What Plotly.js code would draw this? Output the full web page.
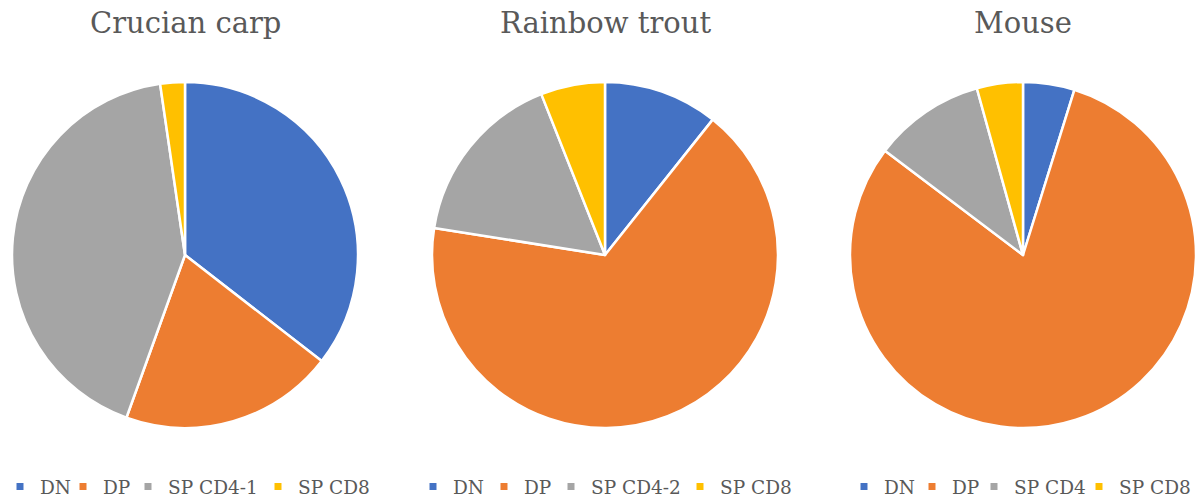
<!DOCTYPE html>
<html>
<head>
<meta charset="utf-8">
<script src="https://cdn.plot.ly/plotly-3.0.1.min.js"></script>
<style>html,body{margin:0;padding:0;background:#fff;overflow:hidden}#wrap{width:1196px;height:499px;overflow:hidden}</style>
</head>
<body>
<div id="wrap"><div id="chart"></div></div>
<script>
const titles = ["Crucian carp", "Rainbow trout", "Mouse"];
const labelsCarp = ["DN", "DP", "SP CD4-1", "SP CD8"];
const labelsTrout = ["DN", "DP", "SP CD4-2", "SP CD8"];
const labelsMouse = ["DN", "DP", "SP CD4", "SP CD8"];
const valuesCarp = [35.5, 20.0, 42.2, 2.3];
const valuesTrout = [10.7, 66.8, 16.5, 6.0];
const valuesMouse = [4.8, 80.5, 10.4, 4.3];
const colors = ["#4472C4", "#ED7D31", "#A5A5A5", "#FFC000"];

const FONT = "DejaVu Serif";
const W = 1196, H = 506;
const R = 173;
const centers = [[185, 255], [605, 255], [1023, 255]];
const allLabels = [labelsCarp, labelsTrout, labelsMouse];
const allValues = [valuesCarp, valuesTrout, valuesMouse];
// legend symbol centres (px) for each pie's legend entries
const symbolPos = [[16, 85, 150, 280], [435, 506, 573, 702], [866, 934, 996, 1100]];

const traces = [];
const pieIdx = [];
const annotations = [];
const layout = {
  width: W, height: H,
  margin: {l: 0, r: 0, t: 0, b: 0, pad: 0},
  paper_bgcolor: "#ffffff",
  plot_bgcolor: "#ffffff",
  xaxis: {visible: false, range: [0, 1]},
  yaxis: {visible: false, range: [0, 1]},
  showlegend: true,
  font: {family: FONT, color: "#595959"}
};

function pieDomain(cx, cy, s) {
  return {
    x: [(cx - R - s.l) / s.w, (cx + R - s.l) / s.w],
    y: [(s.t + s.h - (cy + R)) / s.h, (s.t + s.h - (cy - R)) / s.h]
  };
}

let legendCount = 0;
for (let i = 0; i < 3; i++) {
  const [cx, cy] = centers[i];
  pieIdx.push(traces.length);
  traces.push({
    type: "pie",
    labels: allLabels[i],
    values: allValues[i],
    sort: false,
    direction: "clockwise",
    rotation: 0,
    textinfo: "none",
    hoverinfo: "label+percent",
    showlegend: false,
    automargin: false,
    marker: {colors: colors, line: {color: "#ffffff", width: 2.5}},
    domain: pieDomain(cx, cy, {l: 0, t: 0, w: W, h: H})
  });
  allLabels[i].forEach((lab, j) => {
    legendCount++;
    const lname = legendCount === 1 ? "legend" : "legend" + legendCount;
    traces.push({
      type: "scatter",
      mode: "markers",
      x: [null], y: [null],
      name: lab,
      legend: lname,
      showlegend: true,
      marker: {symbol: "square", size: 7, color: colors[j]},
      hoverinfo: "skip"
    });
    const last = (i === 2 && j === 3);
    layout[lname] = {
      orientation: "h",
      xref: "paper",
      yref: "container",
      x: last ? 1 : Math.max(0, symbolPos[i][j] - 22) / W,
      xanchor: last ? "right" : "left",
      y: 0,
      yanchor: "bottom",
      bgcolor: "rgba(0,0,0,0)",
      borderwidth: 0,
      itemclick: false,
      font: {family: FONT, size: 18.5, color: "#595959"}
    };
  });
  annotations.push({
    text: titles[i],
    xref: "paper", yref: "paper",
    x: cx / W, y: 1,
    xanchor: "center", yanchor: "middle",
    showarrow: false,
    font: {family: FONT, size: 29, color: "#595959"}
  });
}
layout.annotations = annotations;

const gd = document.getElementById("chart");
Plotly.newPlot(gd, traces, layout, {displayModeBar: false, staticPlot: true}).then(() => {
  const s = gd._fullLayout._size;
  for (let i = 0; i < 3; i++) {
    const [cx, cy] = centers[i];
    traces[pieIdx[i]].domain = pieDomain(cx, cy, s);
    annotations[i].x = (cx - s.l) / s.w;
    annotations[i].y = (s.t + s.h - 23) / s.h;
  }
  return Plotly.react(gd, traces, layout, {displayModeBar: false, staticPlot: true});
});
</script>
</body>
</html>
